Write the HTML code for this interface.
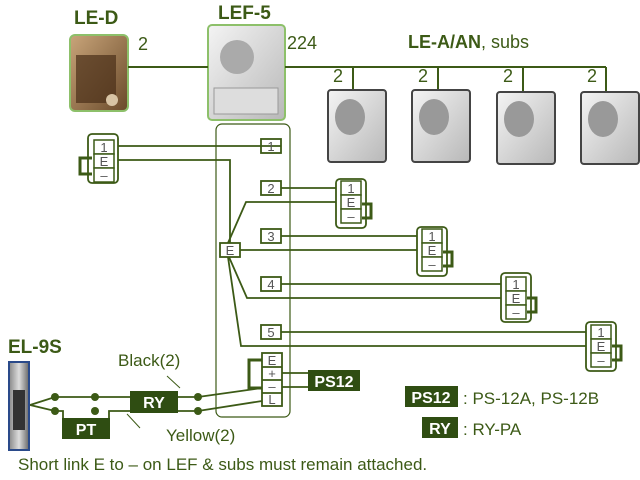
<!DOCTYPE html>
<html><head><style>
html,body{margin:0;padding:0;background:#fff;}
svg{display:block;font-family:"Liberation Sans",sans-serif;}
</style></head><body>
<svg width="640" height="480" viewBox="0 0 640 480" xmlns="http://www.w3.org/2000/svg">
<defs>
<linearGradient id="br" x1="0" y1="0" x2="1" y2="1"><stop offset="0" stop-color="#c9a57a"/><stop offset="1" stop-color="#6a4a2a"/></linearGradient>
<linearGradient id="gr" x1="0" y1="0" x2="1" y2="1"><stop offset="0" stop-color="#f4f4f4"/><stop offset="1" stop-color="#b8b8b8"/></linearGradient>
<linearGradient id="sb" x1="0" y1="0" x2="1" y2="0"><stop offset="0" stop-color="#888"/><stop offset=".5" stop-color="#ddd"/><stop offset="1" stop-color="#666"/></linearGradient>
</defs>
<g fill="#3c5a16" font-weight="bold" font-size="19">
<text x="74" y="24">LE-D</text>
<text x="218" y="19">LEF-5</text>
<text x="8" y="353">EL-9S</text>
</g>
<text x="408" y="48" font-size="18" fill="#3c5a16"><tspan font-weight="bold">LE-A/AN</tspan>, subs</text>
<!-- LE-D -->
<rect x="70" y="35" width="58" height="76" rx="5" fill="url(#br)" stroke="#8dc06a" stroke-width="2"/>
<rect x="76" y="55" width="40" height="48" fill="#4a2f18" opacity=".7"/>
<circle cx="112" cy="100" r="6" fill="#d8c4a4"/>
<!-- LEF-5 -->
<rect x="208" y="25" width="77" height="95" rx="4" fill="url(#gr)" stroke="#8dc06a" stroke-width="2"/>
<circle cx="237" cy="57" r="17" fill="#aaa"/>
<rect x="214" y="88" width="64" height="26" fill="#ddd" stroke="#999"/>
<g stroke="#3c5a16" stroke-width="2" fill="none">
<line x1="128" y1="67" x2="208" y2="67"/>
<line x1="285" y1="67" x2="606" y2="67"/>
<line x1="353" y1="67" x2="353" y2="112"/>
<line x1="438" y1="67" x2="438" y2="112"/>
<line x1="523" y1="67" x2="523" y2="112"/>
<line x1="606" y1="67" x2="606" y2="112"/>
</g>
<g fill="#3c5a16" font-size="18">
<text x="138" y="50">2</text><text x="287" y="49">224</text>
<text x="333" y="82">2</text><text x="418" y="82">2</text><text x="503" y="82">2</text><text x="587" y="82">2</text>
</g>
<!-- subs -->
<g>
<rect x="328" y="90" width="58" height="72" rx="3" fill="url(#gr)" stroke="#444" stroke-width="2"/>
<rect x="412" y="90" width="58" height="72" rx="3" fill="url(#gr)" stroke="#444" stroke-width="2"/>
<rect x="497" y="92" width="58" height="72" rx="3" fill="url(#gr)" stroke="#444" stroke-width="2"/>
<rect x="581" y="92" width="58" height="72" rx="3" fill="url(#gr)" stroke="#444" stroke-width="2"/>
<g fill="#999"><ellipse cx="350" cy="117" rx="15" ry="18"/><ellipse cx="434" cy="117" rx="15" ry="18"/><ellipse cx="519" cy="119" rx="15" ry="18"/><ellipse cx="603" cy="119" rx="15" ry="18"/></g>
</g>
<!-- panel -->
<g stroke="#3c5a16" stroke-width="1.8" fill="none">
<rect x="216" y="124" width="74" height="293" rx="6" stroke-width="1.2"/>
<g fill="#fff">
<rect x="261" y="139" width="20" height="14"/><rect x="261" y="181" width="20" height="14"/>
<rect x="261" y="229" width="20" height="14"/><rect x="261" y="277" width="20" height="14"/>
<rect x="261" y="325" width="20" height="14"/>
<rect x="220" y="243" width="20" height="14"/>
</g>
<line x1="281" y1="146" x2="118" y2="146"/>
<path d="M118 160H230V243"/>
<line x1="281" y1="188" x2="340" y2="188"/>
<path d="M228 243L246 202H340"/>
<line x1="281" y1="236" x2="421" y2="236"/>
<line x1="240" y1="250" x2="421" y2="250"/>
<line x1="281" y1="284" x2="505" y2="284"/>
<path d="M229 257L247 298H505"/>
<line x1="281" y1="332" x2="590" y2="332"/>
<path d="M228 257L241 346H590"/>
<g fill="#fff">
<rect x="88" y="134" width="30" height="49" rx="4"/>
<rect x="336" y="179" width="30" height="49" rx="4"/>
<rect x="417" y="227" width="30" height="49" rx="4"/>
<rect x="501" y="273" width="30" height="49" rx="4"/>
<rect x="586" y="322" width="30" height="49" rx="4"/>
</g>
<g stroke-width="3"><path d="M92 158H80V174H92"/><path d="M362 204H371V218H362"/><path d="M443 252H452V266H443"/><path d="M527 298H536V312H527"/><path d="M612 346H621V360H612"/></g>
<rect x="262" y="353" width="20" height="53" fill="#fff"/>
<path d="M262 367H282M262 380H282M262 393H282"/>
<path d="M262 360H249V388H262" stroke-width="3"/>
<path d="M282 373H308M282 387H308"/>
<path d="M30 405L55 397H198L262 388"/>
<path d="M30 405L55 411H63V418M109 418V411H198L262 401"/>
<path d="M180 388L167 376M127 414L140 428" stroke-width="1"/>
</g>
<g fill="#fff" stroke="#3c5a16" stroke-width="1.5">
<rect x="94" y="140" width="20" height="14"/><rect x="94" y="154" width="20" height="14"/><rect x="94" y="168" width="20" height="14"/>
<rect x="341" y="181" width="20" height="14"/><rect x="341" y="195" width="20" height="14"/><rect x="341" y="209" width="20" height="14"/>
<rect x="422" y="229" width="20" height="14"/><rect x="422" y="243" width="20" height="14"/><rect x="422" y="257" width="20" height="14"/>
<rect x="506" y="277" width="20" height="14"/><rect x="506" y="291" width="20" height="14"/><rect x="506" y="305" width="20" height="14"/>
<rect x="591" y="325" width="20" height="14"/><rect x="591" y="339" width="20" height="14"/><rect x="591" y="353" width="20" height="14"/>
</g>
<g fill="#555" font-size="13" text-anchor="middle">
<text x="271" y="151">1</text><text x="271" y="193">2</text><text x="271" y="241">3</text><text x="271" y="289">4</text><text x="271" y="337">5</text>
<text x="230" y="255">E</text>
<text x="104" y="152">1</text><text x="104" y="166">E</text><text x="104" y="180">–</text>
<text x="351" y="193">1</text><text x="351" y="207">E</text><text x="351" y="221">–</text>
<text x="432" y="241">1</text><text x="432" y="255">E</text><text x="432" y="269">–</text>
<text x="516" y="289">1</text><text x="516" y="303">E</text><text x="516" y="317">–</text>
<text x="601" y="337">1</text><text x="601" y="351">E</text><text x="601" y="365">–</text>
<text x="272" y="365">E</text><text x="272" y="378">+</text><text x="272" y="391">–</text><text x="272" y="404">L</text>
</g>
<g fill="#3c5a16"><circle cx="55" cy="397" r="4"/><circle cx="95" cy="397" r="4"/><circle cx="198" cy="397" r="4"/><circle cx="55" cy="411" r="4"/><circle cx="95" cy="411" r="4"/><circle cx="198" cy="411" r="4"/></g>
<rect x="9" y="362" width="20" height="88" fill="url(#sb)" stroke="#2a4a8a" stroke-width="2"/>
<rect x="13" y="390" width="12" height="40" fill="#333"/>
<g fill="#2f4d12">
<rect x="130" y="391" width="48" height="22"/><rect x="62" y="418" width="48" height="21"/>
<rect x="308" y="370" width="52" height="21"/>
<rect x="405" y="386" width="53" height="21"/><rect x="422" y="417" width="36" height="21"/>
</g>
<g fill="#fff" font-weight="bold" font-size="16" text-anchor="middle">
<text x="154" y="408">RY</text><text x="86" y="435">PT</text><text x="334" y="387">PS12</text>
<text x="431" y="403">PS12</text><text x="440" y="434">RY</text>
</g>
<g fill="#3c5a16" font-size="17">
<text x="118" y="366">Black(2)</text>
<text x="166" y="441">Yellow(2)</text>
<text x="463" y="404">: PS-12A, PS-12B</text>
<text x="463" y="435">: RY-PA</text>
<text x="18" y="470">Short link E to – on LEF &amp; subs must remain attached.</text>
</g>
</svg>
</body></html>
